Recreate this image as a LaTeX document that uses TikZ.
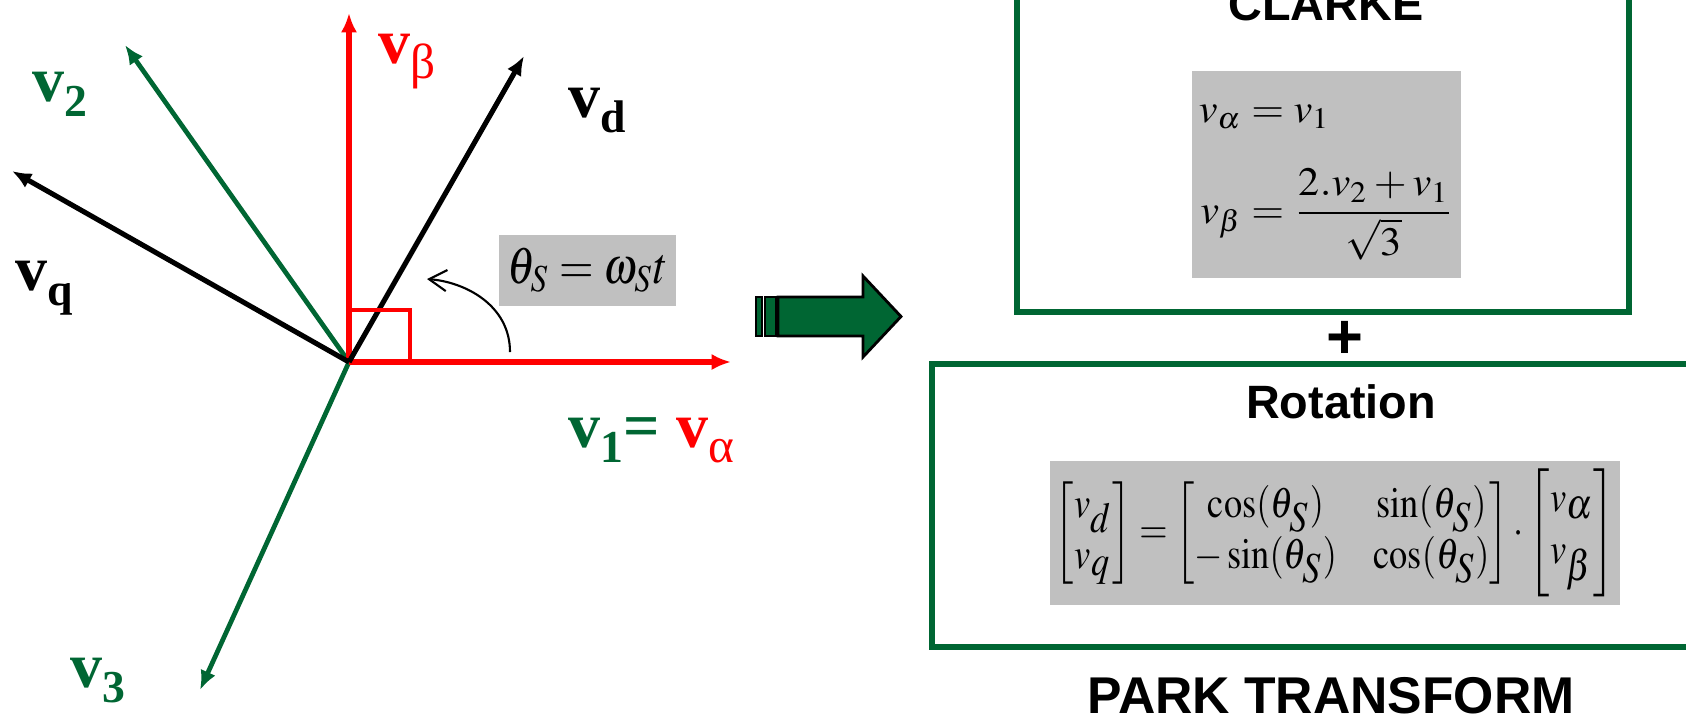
\documentclass[tikz,border=0pt]{standalone}
\usepackage{amsmath}
\usepackage{mathptmx}
\usepackage{fontspec}
\setmainfont{Liberation Serif}
\setsansfont{Liberation Sans}
\usepackage{graphicx}
\usetikzlibrary{arrows.meta}

\definecolor{dgreen}{HTML}{006633}
\definecolor{eqgray}{HTML}{C0C0C0}

\newcommand{\vlab}[1]{\textbf{v}\raisebox{-4.4pt}{\fontsize{13}{13}\selectfont\bfseries #1}}
\newcommand{\vgr}[1]{\textbf{v}\raisebox{-4.4pt}{\fontsize{14}{14}\selectfont #1}}

\begin{document}
\begin{tikzpicture}[x=0.01cm, y=-0.01cm]
    \tikzstyle{redvec} = [red, line width=1.45pt, -{Latex[length=5.5pt,width=4.6pt]}]
    \tikzstyle{blackvec} = [black, line width=1.45pt, -{Latex[length=5.5pt,width=4.6pt]}]
    \tikzstyle{greenvec} = [dgreen, line width=1.35pt, -{Latex[length=5.5pt,width=4.6pt]}]
    \tikzstyle{vlabel} = [anchor=base west, inner sep=0pt, font=\fontsize{18.2}{20}\selectfont]
    \tikzstyle{greenbox} = [draw=dgreen, line width=1.7pt]
    \tikzstyle{eqbox} = [fill=eqgray, inner sep=0pt]
    \tikzstyle{title} = [anchor=base, inner sep=0pt, font=\fontsize{13.3}{16}\selectfont\sffamily\bfseries]

    \useasboundingbox (0,0) rectangle (1686,717);
    \clip (0,0) rectangle (1686,717);

    % Origin and vector tips
    \coordinate (O) at (349,362);
    \coordinate (tipA) at (731,362);
    \coordinate (tipB) at (349,13);
    \coordinate (tip2) at (125,45);
    \coordinate (tip3) at (200,690);
    \coordinate (tipD) at (524,56);
    \coordinate (tipQ) at (12,171);

    % Phase vectors
    \draw [greenvec] (O) -- (tip2);
    \draw [greenvec] (O) -- (tip3);
    % Fixed frame
    \draw [redvec] (O) -- (tipA);
    \draw [redvec] (O) -- (tipB);
    % Rotating frame
    \draw [blackvec] (O) -- (tipD);
    \draw [blackvec] (O) -- (tipQ);

    % Right angle mark
    \coordinate (sqA) at (349,310);
    \coordinate (sqC) at (410,310);
    \coordinate (sqB) at (410,362);
    \draw [red, line width=1.2pt] (sqA) -- (sqC) -- (sqB);

    % Rotation angle
    \coordinate (arcS) at (510,352);
    \coordinate (arcE) at (427,279);
    \draw [line width=0.6pt, -{Straight Barb[length=5pt,width=6pt]}] (arcS) .. controls (510,305) and (465,282) .. (arcE);
    \node [eqbox, minimum width=1.77cm, minimum height=0.71cm] (theta) at (587.5,270.5)
        {\resizebox*{1.6cm}{0.44cm}{$\theta_{S} = \omega_{S} t$}};

    % Vector labels
    \node [vlabel, dgreen] (lab2) at (32,101) {\vlab{2}};
    \node [vlabel, dgreen] (lab3) at (70,687) {\vlab{3}};
    \node [vlabel] (labd) at (568,117) {\vlab{d}};
    \node [vlabel] (labq) at (15,290) {\vlab{q}};
    \node [vlabel, red] (labB) at (378,63) {\vgr{β}};
    \node [vlabel, dgreen] (lab1) at (568,447) {\vlab{1}\textbf{=} \textcolor{red}{\vgr{α}}};

    % Block arrow
    \filldraw [fill=dgreen, draw=black, line width=0.8pt] (778,297) -- (863,297) -- (863,276) -- (901,316.5) -- (863,357) -- (863,336) -- (778,336) -- cycle;
    \filldraw [fill=dgreen, draw=black, line width=0.8pt] (756,297) rectangle (762,336);
    \filldraw [fill=dgreen, draw=black, line width=0.8pt] (765,297) rectangle (776,336);

    % Clarke block
    \draw [greenbox] (1017,-30) rectangle (1629,312);
    \node [title] (clarke) at (1326,20) {CLARKE};
    \node [eqbox, minimum width=2.69cm, minimum height=2.07cm] (clarkeEq) at (1326.5,174.5)
        {\resizebox*{2.55cm}{1.72cm}{$\begin{aligned} v_{\alpha} &= v_{1}\\[4pt] v_{\beta} &= \frac{2.v_{2}+v_{1}}{\sqrt{3}}\end{aligned}$}};
    \node [title, font=\fontsize{18}{18}\selectfont\sffamily\bfseries] (plus) at (1345,358) {+};

    % Rotation block
    \draw [greenbox] (932,364) rectangle (1720,647);
    \node [title] (rot) at (1341,418) {Rotation};
    \node [eqbox, minimum width=5.7cm, minimum height=1.44cm] (rotEq) at (1335,533)
        {\resizebox*{5.6cm}{1.28cm}{$\begin{bmatrix} v_{\textstyle d}\\ v_{\textstyle q}\end{bmatrix} = \begin{bmatrix} \cos(\theta_{\textstyle S}) & \sin(\theta_{\textstyle S})\\ -\sin(\theta_{\textstyle S}) & \cos(\theta_{\textstyle S})\end{bmatrix} \cdot \begin{bmatrix} v_{\textstyle\alpha}\\ v_{\textstyle\beta}\end{bmatrix}$}};

    \node [title, font=\fontsize{14.7}{17}\selectfont\sffamily\bfseries] (park) at (1331,713) {PARK TRANSFORM};
\end{tikzpicture}
\end{document}
